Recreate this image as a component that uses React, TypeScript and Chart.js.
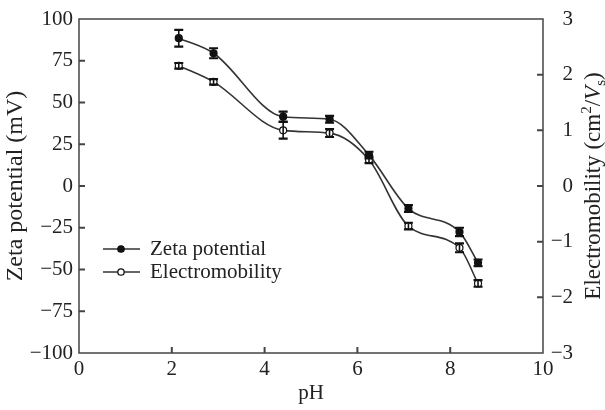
import React, { useEffect, useRef } from 'react';
import Chart from 'chart.js/auto';

const pH = [2.15, 2.9, 4.4, 5.4, 6.25, 7.1, 8.2, 8.6];
const zeta = [88.5, 79.5, 41.5, 40, 18.5, -13.5, -27.5, -46];
const zetaErr = [5, 3, 3, 2, 2, 2, 2.5, 2];
const electro = [2.16, 1.87, 1.0, 0.95, 0.47, -0.72, -1.11, -1.75];
const electroErr = [0.05, 0.05, 0.15, 0.07, 0.06, 0.06, 0.08, 0.06];
const xTicks = [0, 2, 4, 6, 8, 10];
const leftTicks = [-100, -75, -50, -25, 0, 25, 50, 75, 100];
const rightTicks = [-3, -2, -1, 0, 1, 2, 3];
const seriesNames = ['Zeta potential', 'Electromobility'];
const xTitle = 'pH';
const leftTitle = 'Zeta potential (mV)';

const FONT = "'Liberation Serif', 'Times New Roman', serif";
const INK = '#222';
const LINE = '#333';
const TS = 21;
const TITLE = 24;
const RTITLE = 23;

const fmt = (v: number) => (v < 0 ? '\u2212' + Math.abs(v) : String(v));

const decorPlugin = {
  id: 'decor',
  afterDatasetsDraw(chart: any) {
    const ctx = chart.ctx;
    const errs = [zetaErr, electroErr];
    const vals = [zeta, electro];
    chart.data.datasets.forEach((ds: any, di: number) => {
      const meta = chart.getDatasetMeta(di);
      const ys = chart.scales[ds.yAxisID];
      meta.data.forEach((pt: any, i: number) => {
        const v = vals[di][i];
        const e = errs[di][i];
        const y1 = ys.getPixelForValue(v + e);
        const y2 = ys.getPixelForValue(v - e);
        const x = pt.x;
        ctx.save();
        ctx.strokeStyle = '#111';
        ctx.lineWidth = 1.6;
        ctx.beginPath();
        ctx.moveTo(x, y1);
        ctx.lineTo(x, y2);
        ctx.stroke();
        ctx.lineWidth = 2.2;
        ctx.beginPath();
        ctx.moveTo(x - 4.5, y1);
        ctx.lineTo(x + 4.5, y1);
        ctx.moveTo(x - 4.5, y2);
        ctx.lineTo(x + 4.5, y2);
        ctx.stroke();
        ctx.restore();
      });
    });
  },
  afterDraw(chart: any) {
    const ctx = chart.ctx;
    const { left, right, top, bottom } = chart.chartArea;
    ctx.save();
    ctx.strokeStyle = '#444';
    ctx.lineWidth = 1.5;
    ctx.strokeRect(left, top, right - left, bottom - top);
    const tl = 6;
    ctx.lineWidth = 2;
    ctx.beginPath();
    const xs = chart.scales.x;
    xTicks.forEach((t, i) => {
      if (i === 0 || i === xTicks.length - 1) return;
      const px = xs.getPixelForValue(t);
      ctx.moveTo(px, bottom);
      ctx.lineTo(px, bottom - tl);
    });
    const yl = chart.scales.y;
    leftTicks.forEach((t, i) => {
      if (i === 0 || i === leftTicks.length - 1) return;
      const py = yl.getPixelForValue(t);
      ctx.moveTo(left, py);
      ctx.lineTo(left + tl, py);
    });
    const yr = chart.scales.y2;
    rightTicks.forEach((t, i) => {
      if (i === 0 || i === rightTicks.length - 1) return;
      const py = yr.getPixelForValue(t);
      ctx.moveTo(right, py);
      ctx.lineTo(right - tl, py);
    });
    ctx.stroke();

    // legend
    const rows = [249, 272];
    rows.forEach((ry, i) => {
      ctx.strokeStyle = LINE;
      ctx.lineWidth = 1.6;
      ctx.beginPath();
      ctx.moveTo(103, ry);
      ctx.lineTo(140, ry);
      ctx.stroke();
      ctx.beginPath();
      ctx.arc(121, ry, 3.2, 0, Math.PI * 2);
      ctx.fillStyle = i === 0 ? '#111' : '#fff';
      ctx.fill();
      ctx.strokeStyle = '#111';
      ctx.lineWidth = 1.3;
      ctx.stroke();
      ctx.fillStyle = INK;
      ctx.font = `${TS}px ${FONT}`;
      ctx.textBaseline = 'middle';
      ctx.textAlign = 'left';
      ctx.fillText(seriesNames[i], 150, ry);
    });

    // right axis title (reads bottom to top)
    ctx.translate(589, (top + bottom) / 2);
    ctx.rotate(-Math.PI / 2);
    const big = `${RTITLE}px`;
    const small = `${Math.round(RTITLE * 0.66)}px`;
    const parts: [string, string, string][] = [
      ['Electromobility (cm', 'n', big],
      ['2', 'sup', small],
      ['/', 'n', big],
      ['V', 'i', big],
      ['s', 'sub', small],
      [')', 'n', big],
    ];
    let total = 0;
    const widths = parts.map(([t, k, s]) => {
      ctx.font = `${k === 'i' ? 'italic ' : ''}${s} ${FONT}`;
      const w = ctx.measureText(t).width;
      total += w;
      return w;
    });
    let cx = -total / 2;
    ctx.textBaseline = 'alphabetic';
    ctx.textAlign = 'left';
    ctx.fillStyle = INK;
    parts.forEach(([t, k, s], i) => {
      ctx.font = `${k === 'i' ? 'italic ' : ''}${s} ${FONT}`;
      const dy = k === 'sup' ? -9 : k === 'sub' ? 5 : 0;
      ctx.fillText(t, cx, 11 + dy);
      cx += widths[i];
    });
    ctx.restore();
  },
};

export default function App() {
  const ref = useRef<HTMLCanvasElement>(null);
  useEffect(() => {
    if (!ref.current) return;
    const chart = new Chart(ref.current, {
      type: 'line',
      data: {
        datasets: [
          {
            label: seriesNames[0],
            data: pH.map((x, i) => ({ x, y: zeta[i] })),
            yAxisID: 'y',
            borderColor: LINE,
            borderWidth: 1.6,
            pointRadius: 3.5,
            pointBackgroundColor: '#111',
            pointBorderColor: '#111',
            pointBorderWidth: 1.2,
            cubicInterpolationMode: 'monotone',
            fill: false,
          },
          {
            label: seriesNames[1],
            data: pH.map((x, i) => ({ x, y: electro[i] })),
            yAxisID: 'y2',
            borderColor: LINE,
            borderWidth: 1.6,
            pointRadius: 3.5,
            pointBackgroundColor: '#fff',
            pointBorderColor: '#111',
            pointBorderWidth: 1.2,
            cubicInterpolationMode: 'monotone',
            fill: false,
          },
        ],
      },
      options: {
        responsive: false,
        animation: false,
        layout: { padding: { top: 19, left: 0, right: 32, bottom: 0 } },
        plugins: { legend: { display: false }, tooltip: { enabled: false } },
        scales: {
          x: {
            type: 'linear',
            min: 0,
            max: 10,
            afterBuildTicks: (s: any) => {
              s.ticks = xTicks.map((v) => ({ value: v }));
            },
            afterFit: (s: any) => {
              s.height = 57;
            },
            grid: { display: false, drawTicks: false },
            border: { display: false },
            ticks: { color: INK, font: { family: FONT, size: TS }, padding: 4, maxRotation: 0, callback: (v: any) => fmt(v) },
            title: { display: true, text: xTitle, color: INK, font: { family: FONT, size: TS }, padding: { top: 0, bottom: 4 } },
          },
          y: {
            type: 'linear',
            position: 'left',
            min: -100,
            max: 100,
            afterBuildTicks: (s: any) => {
              s.ticks = leftTicks.map((v) => ({ value: v }));
            },
            afterFit: (s: any) => {
              s.width = 79;
            },
            grid: { display: false, drawTicks: false },
            border: { display: false },
            ticks: { color: INK, font: { family: FONT, size: TS }, padding: 6, callback: (v: any) => fmt(v) },
            title: { display: true, text: leftTitle, color: INK, font: { family: FONT, size: TITLE }, padding: { top: 1, bottom: 0 } },
          },
          y2: {
            type: 'linear',
            position: 'right',
            min: -3,
            max: 3,
            afterBuildTicks: (s: any) => {
              s.ticks = rightTicks.map((v) => ({ value: v }));
            },
            afterFit: (s: any) => {
              s.width = 30;
            },
            grid: { display: false, drawTicks: false },
            border: { display: false },
            ticks: { color: INK, font: { family: FONT, size: TS }, padding: 0, crossAlign: 'far', callback: (v: any) => fmt(v) },
          },
        },
      },
      plugins: [decorPlugin],
    } as any);
    return () => chart.destroy();
  }, []);
  return (
    <div style={{ position: 'absolute', left: 0, top: 0, width: 605, height: 410, background: '#fff' }}>
      <canvas ref={ref} width={605} height={410} />
    </div>
  );
}
